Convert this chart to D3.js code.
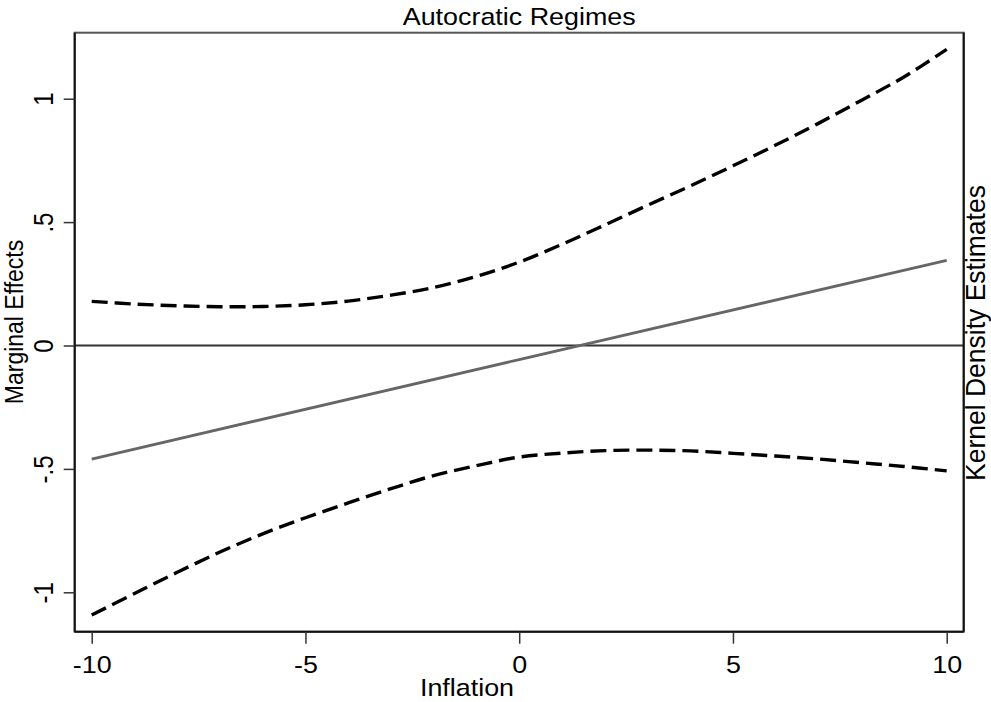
<!DOCTYPE html>
<html>
<head>
<meta charset="utf-8">
<script src="https://cdn.jsdelivr.net/npm/d3@7"></script>
<style>
  body { margin: 0; background: #fff; }
  text { font-family: "Liberation Sans", Arial, sans-serif; fill: #000; }
</style>
</head>
<body>
<script>
// values
var inflation = [-10, -9, -8, -7, -6, -5, -4, -3, -2, -1, 0, 1, 2, 3, 4, 5, 6, 7, 8, 9, 10];
var upperCI = [0.179, 0.168, 0.161, 0.157, 0.158, 0.165, 0.180, 0.204, 0.235, 0.280, 0.338,
               0.410, 0.488, 0.568, 0.646, 0.728, 0.812, 0.900, 0.993, 1.088, 1.200];
var lowerCI = [-1.092, -1.005, -0.919, -0.837, -0.763, -0.698, -0.638, -0.580, -0.527, -0.487, -0.452,
               -0.436, -0.426, -0.424, -0.427, -0.437, -0.448, -0.460, -0.475, -0.490, -0.508];
var estX = [-10, 0, 10];
var estimate = [-0.46, -0.057, 0.345];
var xTicks = [-10, -5, 0, 5, 10];
var yTicks = [-1, -0.5, 0, 0.5, 1];
var yTickLabels = ["-1", "-.5", "0", ".5", "1"];

var W = 991, H = 702;
var plot = {left: 74.7, top: 32.7, right: 963.7, bottom: 631.7};
// the original graph is a bit wider than tall, text gets stretched too
var stretch = 1.12;

var svg = d3.select("body").append("svg")
	.attr("width", W)
	.attr("height", H);

var x = d3.scaleLinear().domain([-10, 10]).range([91.7, 946.7]);
var y = d3.scaleLinear().domain([-1, 1]).range([592.3, 98.7]);

// plot region outline
svg.append("rect")
	.attr("x", plot.left).attr("y", plot.top)
	.attr("width", plot.right - plot.left)
	.attr("height", plot.bottom - plot.top)
	.attr("fill", "none")
	.attr("stroke", "#555")
	.attr("stroke-width", 2);

// zero reference line
svg.append("line")
	.attr("x1", plot.left).attr("x2", plot.right)
	.attr("y1", y(0)).attr("y2", y(0))
	.attr("stroke", "#333")
	.attr("stroke-width", 2);

var line = d3.line()
	.x(function(d) { return x(d[0]); })
	.y(function(d) { return y(d[1]); });

// point estimate
svg.append("path")
	.datum(d3.zip(estX, estimate))
	.attr("d", line.curve(d3.curveLinear))
	.attr("fill", "none")
	.attr("stroke", "#666")
	.attr("stroke-width", 2.8);

line.curve(d3.curveCatmullRom);
[upperCI, lowerCI].forEach(function(vals) {
	svg.append("path")
		.datum(d3.zip(inflation, vals))
		.attr("d", line)
		.attr("fill", "none")
		.attr("stroke", "#000")
		.attr("stroke-width", 3.4)
		.attr("stroke-dasharray", "16 7");
});

// axes
var xAxis = svg.append("g")
	.attr("transform", "translate(0," + plot.bottom + ")")
	.call(d3.axisBottom(x).tickValues(xTicks).tickSize(12));
xAxis.select(".domain")
	.attr("d", "M" + plot.left + ",0H" + plot.right)
	.attr("stroke", "#111").attr("stroke-width", 2);
xAxis.selectAll(".tick line").attr("stroke", "#333").attr("stroke-width", 1.5);
xAxis.selectAll(".tick text")
	.attr("y", null).attr("dy", null)
	.attr("transform", "translate(0,41) scale(" + stretch + ",1)")
	.style("font-size", "24px")
	.text(function(d) { return d < 0 ? "-" + Math.abs(d) : d; });

var yAxis = svg.append("g")
	.attr("transform", "translate(" + plot.left + ",0)")
	.call(d3.axisLeft(y).tickValues(yTicks).tickSize(11));
yAxis.select(".domain")
	.attr("d", "M0," + plot.top + "V" + plot.bottom)
	.attr("stroke", "#111").attr("stroke-width", 2);
yAxis.selectAll(".tick line").attr("stroke", "#333").attr("stroke-width", 1.5);
yAxis.selectAll(".tick text")
	.attr("x", null).attr("dy", null)
	.attr("text-anchor", "middle")
	.attr("transform", "translate(-22,0) scale(" + stretch + ",1) rotate(-90)")
	.style("font-size", "24px")
	.text(function(d, i) { return yTickLabels[i]; });

// right axis line (no ticks)
svg.append("line")
	.attr("x1", plot.right).attr("x2", plot.right)
	.attr("y1", plot.top).attr("y2", plot.bottom)
	.attr("stroke", "#111").attr("stroke-width", 2);

// titles
svg.append("text")
	.attr("transform", "translate(" + (plot.left + plot.right) / 2 + ",25) scale(" + stretch + ",1)")
	.attr("text-anchor", "middle")
	.style("font-size", "24px")
	.text("Autocratic Regimes");

svg.append("text")
	.attr("transform", "translate(467,696) scale(" + stretch + ",1)")
	.attr("text-anchor", "middle")
	.style("font-size", "24px")
	.text("Inflation");

svg.append("text")
	.attr("transform", "translate(23,322) scale(1.12,1) rotate(-90)")
	.attr("text-anchor", "middle")
	.style("font-size", "23px")
	.text("Marginal Effects");

svg.append("text")
	.attr("transform", "translate(985,333) scale(1.05,1) rotate(-90)")
	.attr("text-anchor", "middle")
	.style("font-size", "26.5px")
	.text("Kernel Density Estimates");
</script>
</body>
</html>
